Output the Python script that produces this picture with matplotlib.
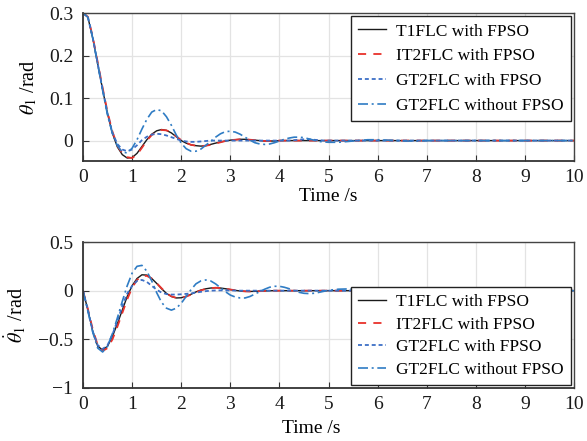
import numpy as np
import matplotlib
matplotlib.use("Agg")
import matplotlib.pyplot as plt

# ---------------- data ----------------
time_s = [round(0.1 * i, 1) for i in range(51)] + \
         [5.2, 5.4, 5.6, 5.8, 6.0, 6.2, 6.4, 6.6, 6.8, 7.0, 8.0, 9.0, 10.0]

labels = ["T1FLC with FPSO", "IT2FLC with FPSO", "GT2FLC with FPSO", "GT2FLC without FPSO"]

# theta_1 (rad)
theta_t1 = [0.300, 0.290, 0.240, 0.180, 0.120, 0.063, 0.017, -0.015, -0.033, -0.041,
            -0.040, -0.030, -0.014, 0.002, 0.015, 0.023, 0.026, 0.024, 0.018, 0.009,
            0.000, -0.006, -0.010, -0.012, -0.013, -0.012, -0.009, -0.006, -0.003, -0.001,
            0.001, 0.002, 0.003, 0.003, 0.002, 0.001, 0.000, -0.001, -0.001, -0.001,
            0.000] + [0.0] * 10 + [0.0] * 13
theta_it2 = [0.300, 0.291, 0.243, 0.184, 0.124, 0.067, 0.021, -0.012, -0.030, -0.039,
             -0.041, -0.033, -0.017, 0.000, 0.013, 0.021, 0.025, 0.024, 0.019, 0.010,
             0.001, -0.005, -0.010, -0.012, -0.013, -0.012, -0.010, -0.007, -0.004, -0.001,
             0.001, 0.002, 0.003, 0.003, 0.002, 0.001, 0.000, -0.001, -0.001, -0.001,
             0.000] + [0.0] * 10 + [0.0] * 13
theta_gt2 = [0.300, 0.290, 0.241, 0.181, 0.120, 0.063, 0.018, -0.008, -0.021, -0.025,
             -0.021, -0.011, 0.001, 0.009, 0.014, 0.016, 0.015, 0.012, 0.008, 0.004,
             0.000, -0.002, -0.003, -0.003, -0.002, -0.001, 0.000] + [0.0] * 16 + \
            [0.001, 0.002, 0.003, 0.003, 0.002, 0.001, 0.000, 0.000] + [0.0] * 13
theta_gt2_nopso = [0.300, 0.290, 0.240, 0.179, 0.118, 0.060, 0.016, -0.012, -0.027, -0.029,
                   -0.018, 0.002, 0.027, 0.050, 0.067, 0.073, 0.070, 0.056, 0.036, 0.013,
                   -0.006, -0.019, -0.025, -0.025, -0.020, -0.011, -0.002, 0.008, 0.016, 0.021,
                   0.022, 0.020, 0.015, 0.008, 0.001, -0.005, -0.008, -0.009, -0.008, -0.005,
                   -0.001, 0.003, 0.006, 0.008, 0.008, 0.007, 0.004, 0.001, -0.002, -0.003,
                   -0.004,
                   -0.004, -0.002, 0.000, 0.002, 0.002, 0.001, 0.000, -0.001, -0.001, 0.000,
                   0.000, 0.000, 0.000]

# theta_1 dot (rad/s)
dtheta_t1 = [0.0, -0.20, -0.42, -0.57, -0.61, -0.57, -0.47, -0.34, -0.20, -0.06,
             0.05, 0.125, 0.163, 0.160, 0.125, 0.075, 0.020, -0.028, -0.060, -0.075,
             -0.073, -0.058, -0.037, -0.013, 0.006, 0.019, 0.027, 0.030, 0.027, 0.020,
             0.011, 0.003, -0.003, -0.007, -0.008, -0.007, -0.005, -0.003, -0.001, 0.0] + \
            [0.0] * 11 + [0.0] * 13
dtheta_it2 = [0.0, -0.19, -0.40, -0.56, -0.62, -0.59, -0.50, -0.37, -0.23, -0.09,
              0.03, 0.11, 0.150, 0.152, 0.125, 0.078, 0.025, -0.025, -0.058, -0.074,
              -0.074, -0.061, -0.041, -0.017, 0.003, 0.017, 0.026, 0.030, 0.028, 0.021,
              0.012, 0.004, -0.003, -0.007, -0.008, -0.007, -0.005, -0.003, -0.001, 0.0] + \
             [0.0] * 11 + [0.0] * 13
dtheta_gt2 = [0.0, -0.20, -0.42, -0.56, -0.60, -0.56, -0.45, -0.31, -0.16, -0.03,
              0.05, 0.10, 0.11, 0.09, 0.05, 0.01, -0.02, -0.035, -0.040, -0.040,
              -0.037, -0.033, -0.028, -0.020, -0.012, -0.005, 0.000, 0.002, 0.003, 0.003,
              0.002, 0.001, 0.0] + [0.0] * 18 + [0.0] * 13
dtheta_gt2_nopso = [0.0, -0.21, -0.43, -0.59, -0.63, -0.57, -0.44, -0.28, -0.11, 0.05,
                    0.18, 0.25, 0.26, 0.20, 0.10, -0.02, -0.12, -0.18, -0.20, -0.18,
                    -0.13, -0.06, 0.01, 0.07, 0.10, 0.11, 0.10, 0.07, 0.03, -0.01,
                    -0.045, -0.065, -0.075, -0.075, -0.060, -0.035, -0.010, 0.015, 0.035, 0.045,
                    0.045, 0.035, 0.020, 0.000, -0.017, -0.027, -0.030, -0.027, -0.018, -0.007,
                    0.004,
                    0.015, 0.018, 0.012, 0.000, -0.008, -0.009, -0.004, 0.002, 0.004, 0.002,
                    0.0, 0.0, 0.0]

x_ticks = list(range(0, 11))
top_yticks = [0, 0.1, 0.2, 0.3]
top_yticklabels = ["0", "0.1", "0.2", "0.3"]
bot_yticks = [-1, -0.5, 0, 0.5]
bot_yticklabels = ["\u22121", "\u22120.5", "0", "0.5"]

# ---------------- style ----------------
plt.rcParams["font.family"] = ["Liberation Serif", "DejaVu Serif"]
plt.rcParams["mathtext.fontset"] = "stix"
plt.rcParams["font.size"] = 12.5

colors = ["#1a1a1a", "#e8312b", "#3d6fc6", "#2f7cc4"]
styles = ["-", (0, (4.5, 4)), (0, (2.2, 1.6)), (0, (6, 2.2, 1.2, 2.2))]
lws = [1.0, 1.3, 1.3, 1.2]

fig = plt.figure(figsize=(5.87, 4.41), dpi=100)
ax1 = fig.add_axes([83 / 587, 1 - 161 / 441, (574 - 83) / 587, (161 - 13) / 441])
ax2 = fig.add_axes([83 / 587, 1 - 388 / 441, (574 - 83) / 587, (388 - 242) / 441])

top_series = [theta_t1, theta_it2, theta_gt2, theta_gt2_nopso]
bot_series = [dtheta_t1, dtheta_it2, dtheta_gt2, dtheta_gt2_nopso]

for ax, series in ((ax1, top_series), (ax2, bot_series)):
    for ys, c, ls, lw, lab in zip(series, colors, styles, lws, labels):
        ax.plot(time_s, ys, color=c, linestyle=ls, linewidth=lw, label=lab)
    ax.set_xlim(0, 10)
    ax.set_xticks(x_ticks)
    ax.grid(True, color="#e3e3e3", linewidth=0.9)
    ax.set_axisbelow(True)
    ax.tick_params(direction="in", length=4, width=0.8, colors="#333333",
                   labelcolor="#1a1a1a", labelsize=14, top=False, right=False)
    ax.tick_params(axis="x", pad=6)
    ax.tick_params(axis="y", pad=7)
    for sp in ax.spines.values():
        sp.set_color("#444444")
        sp.set_linewidth(1.0)
    for sp in ("left", "bottom"):
        ax.spines[sp].set_linewidth(1.3)
        ax.spines[sp].set_color("#333333")
    ax.set_xlabel("Time /s", fontsize=14, labelpad=1)

ax1.set_ylim(-0.048, 0.3)
ax1.set_yticks(top_yticks)
ax1.set_yticklabels(top_yticklabels)
ax1.set_ylabel(r"$\theta_1$ /rad", fontsize=14.5, labelpad=7)

ax2.set_ylim(-1, 0.5)
ax2.set_yticks(bot_yticks)
ax2.set_yticklabels(bot_yticklabels)
ax2.set_ylabel(r"$\dot{\theta}_1$ /rad", fontsize=14.5, labelpad=7)
ax2.xaxis.set_label_coords(0.464, -0.22)

leg_kw = dict(fontsize=12.5, frameon=True, fancybox=False, framealpha=1,
              edgecolor="#222222", handlelength=1.6, handletextpad=0.6,
              borderpad=0.4, borderaxespad=0.2)
l1 = ax1.legend(loc="upper right", labelspacing=0.5, **leg_kw)
l2 = ax2.legend(loc="lower right", labelspacing=0.36, **leg_kw)
for l in (l1, l2):
    l.get_frame().set_linewidth(1.0)

fig.savefig("out.png", dpi=100)
